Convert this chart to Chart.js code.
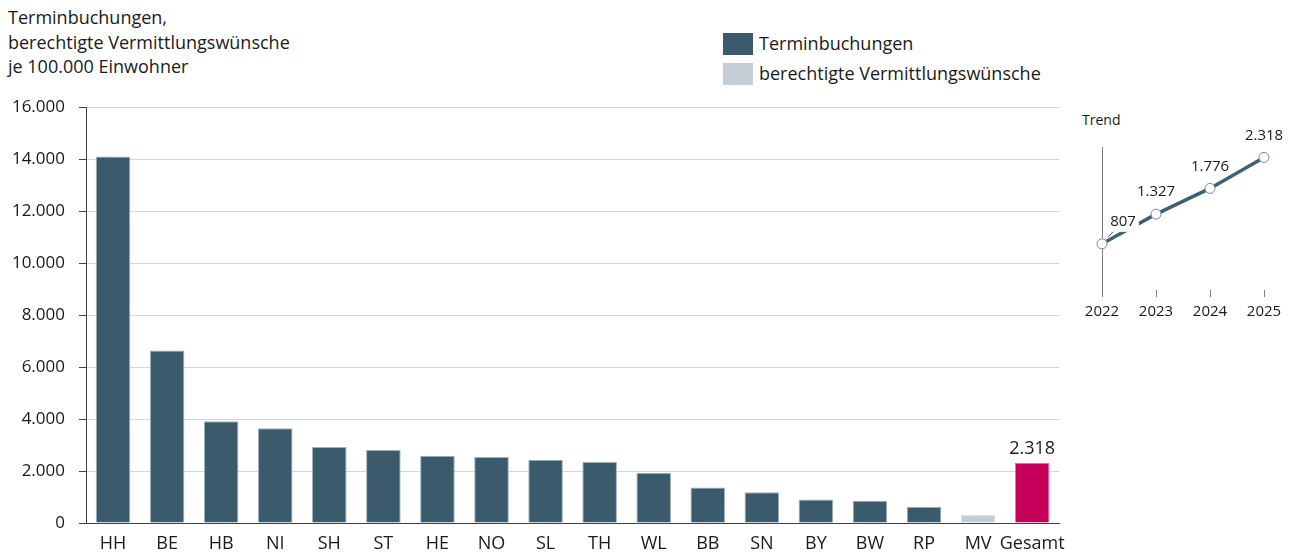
<!DOCTYPE html>
<html>
<head>
<meta charset="utf-8">
<script src="https://cdn.jsdelivr.net/npm/chart.js@4/dist/chart.umd.min.js"></script>
<style>
  html, body { margin: 0; padding: 0; background: #fff; }
  body { width: 1294px; height: 553px; position: relative; overflow: hidden; font-family: "Open Sans", sans-serif; color: #1a1a1a; }
  #mainWrap { position: absolute; left: 0; top: 0; width: 1075px; height: 553px; }
  #trendWrap { position: absolute; left: 1040px; top: 100px; width: 254px; height: 240px; }
  .title { position: absolute; left: 8px; top: 5px; font-size: 18px; line-height: 24.5px; }
  .legend { position: absolute; left: 723px; top: 33px; font-size: 18px; }
  .legend .item { position: absolute; left: 0; white-space: nowrap; height: 23px; }
  .legend .sw { position: absolute; left: 0; top: 0; width: 30px; height: 22px; }
  .legend .lbl { position: absolute; left: 36px; top: -1px; line-height: 23px; }
  .trendTitle { position: absolute; left: 1082px; top: 110px; font-size: 14px; line-height: 20px; }
</style>
</head>
<body>
<div class="title">Terminbuchungen,<br>berechtigte Vermittlungswünsche<br>je 100.000 Einwohner</div>
<div class="legend">
  <div class="item" style="top:0"><div class="sw" style="background:#3b5a6b"></div><div class="lbl">Terminbuchungen</div></div>
  <div class="item" style="top:30px"><div class="sw" style="background:#c4cdd3"></div><div class="lbl">berechtigte Vermittlungswünsche</div></div>
</div>
<div class="trendTitle">Trend</div>
<div id="mainWrap"><canvas id="main"></canvas></div>
<div id="trendWrap"><canvas id="trend"></canvas></div>
<script>
// ---- data ----
const categories = ['HH','BE','HB','NI','SH','ST','HE','NO','SL','TH','WL','BB','SN','BY','BW','RP','MV','Gesamt'];
const terminbuchungen = [14100,6630,3910,3640,2920,2810,2590,2540,2435,2345,1930,1365,1185,905,855,625,null,2318];
const vermittlungswuensche = [null,null,null,null,null,null,null,null,null,null,null,null,null,null,null,null,320,null];
const yTicks = [0,2000,4000,6000,8000,10000,12000,14000,16000];
const trendYears = ['2022','2023','2024','2025'];
const trendValues = [807,1327,1776,2318];

// ---- style ----
const DARK = '#3b5a6b', LIGHT = '#c4cdd3', MAGENTA = '#c6005a';
const TEXT = '#1a1a1a';
const FONT = '"Open Sans", sans-serif';
Chart.defaults.font.family = FONT;
Chart.defaults.color = TEXT;
Chart.defaults.animation = false;

function fmt(v) {
  return String(Math.round(v)).replace(/\B(?=(\d{3})+(?!\d))/g, '.');
}

const lastIdx = categories.length - 1;

const gesamtLabel = {
  id: 'gesamtLabel',
  afterDatasetsDraw(chart) {
    const meta = chart.getDatasetMeta(0);
    const el = meta.data[lastIdx];
    const v = terminbuchungen[lastIdx];
    const c = chart.ctx;
    c.save();
    c.font = '18px ' + FONT;
    c.fillStyle = TEXT;
    c.textAlign = 'center';
    c.textBaseline = 'middle';
    c.fillText(fmt(v), el.x, el.y - 14);
    c.restore();
  }
};

new Chart(document.getElementById('main'), {
  type: 'bar',
  data: {
    labels: categories,
    datasets: [
      {
        label: 'Terminbuchungen',
        data: terminbuchungen,
        backgroundColor: categories.map((c, i) => i === lastIdx ? MAGENTA : DARK),
        borderColor: categories.map((c, i) => i === lastIdx ? '#e07aa5' : '#9fb3be'),
        borderWidth: 1,
        barPercentage: 0.64,
        categoryPercentage: 1.0
      },
      {
        label: 'berechtigte Vermittlungswünsche',
        data: vermittlungswuensche,
        backgroundColor: LIGHT,
        borderColor: '#dde3e7',
        borderWidth: 1,
        barPercentage: 0.64,
        categoryPercentage: 1.0
      }
    ]
  },
  options: {
    responsive: true,
    maintainAspectRatio: false,
    layout: { padding: { left: 0, right: 14, top: 107, bottom: 0 } },
    plugins: { legend: { display: false }, tooltip: { enabled: false } },
    scales: {
      x: {
        stacked: true,
        grid: { display: false, drawTicks: false },
        border: { display: true, color: '#404040', width: 1 },
        ticks: { font: { size: 18 }, color: TEXT, padding: 10, maxRotation: 0, autoSkip: false },
        afterFit(s) { s.height = 30; }
      },
      y: {
        stacked: true,
        min: 0, max: 16000,
        afterBuildTicks(s) { s.ticks = yTicks.map(v => ({ value: v })); },
        grid: {
          color: (ctx) => ctx.tick && ctx.tick.value === 0 ? '#404040' : '#cfd8dd',
          tickColor: '#404040',
          tickLength: 7,
          lineWidth: 1
        },
        border: { display: true, color: '#404040', width: 1 },
        ticks: { font: { size: 17 }, color: TEXT, padding: 14, callback: (v) => fmt(v) },
        afterFit(s) { s.width = 86; }
      }
    }
  },
  plugins: [gesamtLabel]
});

const trendLabels = {
  id: 'trendLabels',
  afterDatasetsDraw(chart) {
    const meta = chart.getDatasetMeta(0);
    const c = chart.ctx;
    c.save();
    c.font = '15px ' + FONT;
    c.textAlign = 'center';
    c.textBaseline = 'middle';
    meta.data.forEach((pt, i) => {
      const txt = fmt(trendValues[i]);
      let lx = pt.x, ly = pt.y - 22;
      if (i === 0) {
        lx = pt.x + 21;
        const w = c.measureText(txt).width + 6;
        c.fillStyle = '#ffffff';
        c.fillRect(lx - w / 2, ly - 10, w, 20);
        c.strokeStyle = '#404040';
        c.lineWidth = 1;
        c.beginPath();
        c.moveTo(pt.x + 6, pt.y - 7);
        c.lineTo(pt.x + 11, pt.y - 12);
        c.stroke();
      }
      c.fillStyle = TEXT;
      c.fillText(txt, lx, ly);
    });
    c.restore();
  }
};

const pointRedraw = {
  id: 'pointRedraw',
  afterDraw(chart) {
    const meta = chart.getDatasetMeta(0);
    const c = chart.ctx;
    c.save();
    meta.data.forEach((pt) => {
      c.beginPath();
      c.arc(pt.x, pt.y, 5, 0, Math.PI * 2);
      c.fillStyle = '#ffffff';
      c.fill();
      c.strokeStyle = '#7d8a91';
      c.lineWidth = 1;
      c.stroke();
    });
    c.restore();
  }
};

new Chart(document.getElementById('trend'), {
  type: 'line',
  data: {
    labels: trendYears,
    datasets: [{
      data: trendValues,
      borderColor: '#3e6171',
      borderWidth: 3.5,
      pointRadius: 0,
      tension: 0,
      clip: false
    }]
  },
  options: {
    responsive: true,
    maintainAspectRatio: false,
    layout: { padding: { left: 0, right: 30, top: 47, bottom: 0 } },
    plugins: { legend: { display: false }, tooltip: { enabled: false } },
    scales: {
      x: {
        offset: false,
        grid: { display: true, drawOnChartArea: false, drawTicks: true, tickLength: 7, tickColor: '#808080' },
        border: { display: false },
        ticks: { font: { size: 15 }, color: TEXT, padding: 6, maxRotation: 0, autoSkip: false },
        afterFit(s) { s.height = 50; }
      },
      y: {
        min: 0, max: 2500,
        grid: { display: false },
        border: { display: true, color: '#808080', width: 1 },
        ticks: { display: false },
        afterFit(s) { s.width = 62; }
      }
    }
  },
  plugins: [trendLabels, pointRedraw]
});
</script>
</body>
</html>
